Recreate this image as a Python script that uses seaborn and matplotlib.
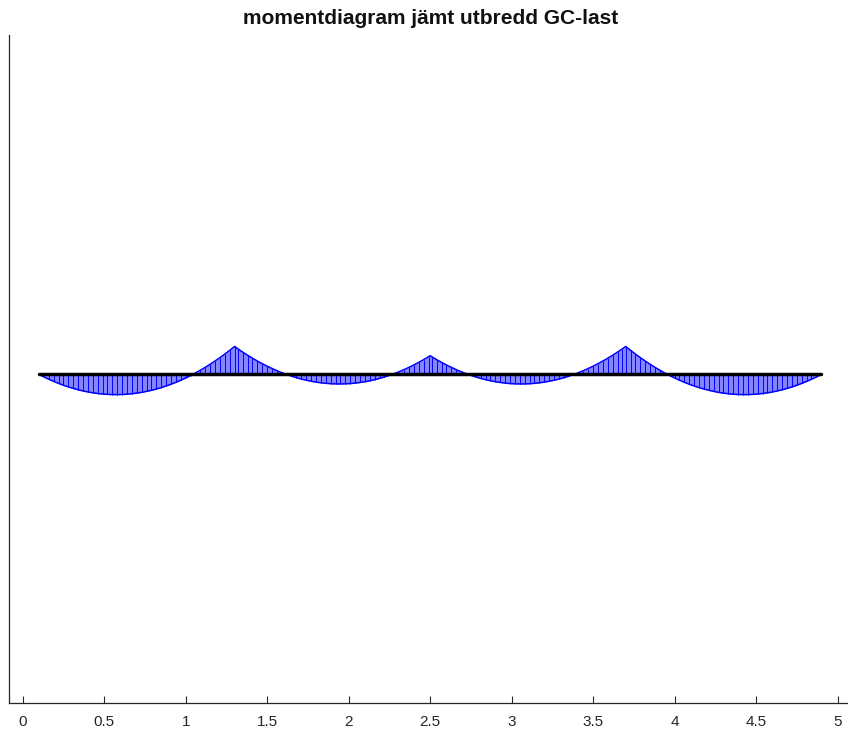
import numpy as np
import pandas as pd
import matplotlib
matplotlib.use("Agg")
import matplotlib.pyplot as plt
import seaborn as sns

# Continuous beam, four equal spans, uniformly distributed permanent load
support_x = [0.1, 1.3, 2.5, 3.7, 4.9]          # support positions [m]
support_moment = [0.0, 1.54, 1.03, 1.54, 0.0]   # hogging moments at supports (drawn upward) [kNm]
q_load = 10.0                                    # line load [kN/m]

title_text = "momentdiagram jämt utbredd GC-last"
xtick_values = [0, 0.5, 1, 1.5, 2, 2.5, 3, 3.5, 4, 4.5, 5]
xtick_labels = ["0", "0.5", "1", "1.5", "2", "2.5", "3", "3.5", "4", "4.5", "5"]

# Moment along the beam: support moments plus the parabolic span moment from q
xs, ms = [], []
for i in range(len(support_x) - 1):
    x0, x1 = support_x[i], support_x[i + 1]
    L = x1 - x0
    s = np.linspace(0, L, 121)
    m = support_moment[i] + (support_moment[i + 1] - support_moment[i]) * s / L - q_load * s * (L - s) / 2
    xs.append(x0 + s)
    ms.append(m)
x = np.concatenate(xs)
m = np.concatenate(ms)
df = pd.DataFrame({"x": x, "M": m})

sns.set_style("ticks")
plt.rcParams["font.family"] = ["Liberation Sans", "DejaVu Sans"]

fig = plt.figure(figsize=(8.48, 7.40), dpi=100)
ax = fig.add_axes([9 / 848, 37 / 740, 1 - 9 / 848, 668 / 740])

# Filled diagram with vertical hatch lines
ax.fill_between(df["x"], 0, df["M"], color=(0.52, 0.52, 1.0), linewidth=0)
hatch = df.iloc[::3]
ax.vlines(hatch["x"], 0, hatch["M"], color=(0, 0, 1), linewidth=0.7)
sns.lineplot(data=df, x="x", y="M", ax=ax, color=(0, 0, 1), linewidth=1.1, sort=False)

# Beam axis
beam = pd.DataFrame({"x": [support_x[0], support_x[-1]], "M": [0.0, 0.0]})
sns.lineplot(data=beam, x="x", y="M", ax=ax, color="black", linewidth=2.5)

ax.set_xlim(-0.084, 5.064)
ax.set_ylim(-18.1, 18.7)
ax.set_xticks(xtick_values)
ax.set_xticklabels(xtick_labels)
ax.set_yticks([])
ax.set_xlabel("")
ax.set_ylabel("")
ax.tick_params(axis="x", direction="in", length=5, width=0.8, color="#262626",
               labelsize=11, pad=9, labelcolor="#262626")
for side in ["top", "right"]:
    ax.spines[side].set_visible(False)
for side in ["left", "bottom"]:
    ax.spines[side].set_color("#262626")
    ax.spines[side].set_linewidth(0.9)

fig.text(431 / 848, 1 - 19 / 740, title_text, ha="center", va="center",
         fontsize=15, fontweight="bold", color="#111111")

fig.savefig("out.png", dpi=100)
